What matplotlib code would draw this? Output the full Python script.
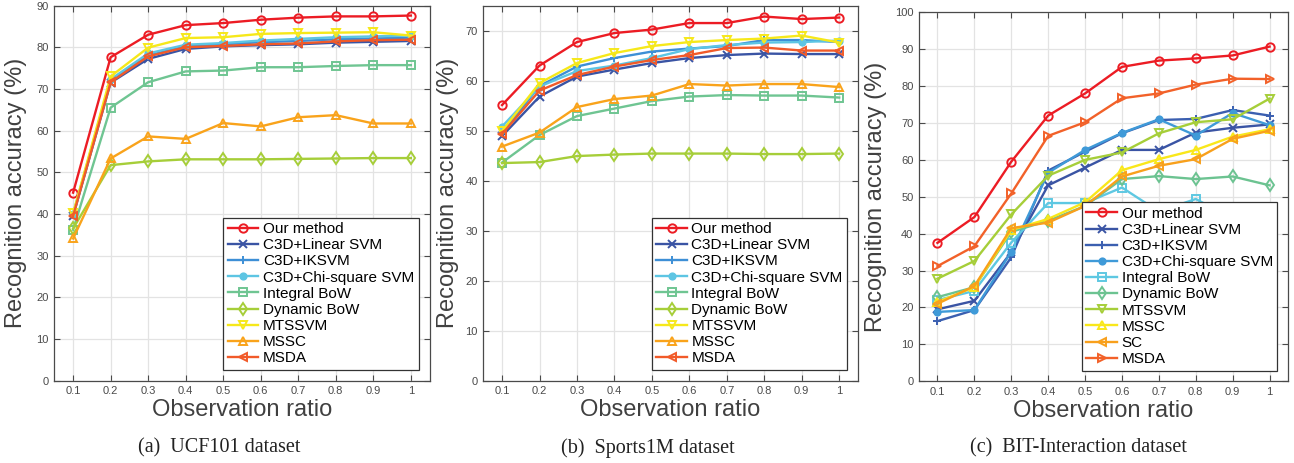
import numpy as np
import matplotlib
matplotlib.use('Agg')
import matplotlib.pyplot as plt

plt.rcParams['font.family'] = ['Liberation Sans', 'DejaVu Sans']

ratio = [0.1, 0.2, 0.3, 0.4, 0.5, 0.6, 0.7, 0.8, 0.9, 1.0]
xtick_labels = ['0.1', '0.2', '0.3', '0.4', '0.5', '0.6', '0.7', '0.8', '0.9', '1']

# (a) UCF101
names_ab = ['Our method', 'C3D+Linear SVM', 'C3D+IKSVM', 'C3D+Chi-square SVM',
            'Integral BoW', 'Dynamic BoW', 'MTSSVM', 'MSSC', 'MSDA']
ucf_our = [45.1, 77.6, 83.0, 85.3, 85.8, 86.6, 87.1, 87.4, 87.4, 87.6]
ucf_linear = [39.5, 71.5, 77.2, 79.6, 80.2, 80.5, 80.7, 81.1, 81.3, 81.5]
ucf_iksvm = [39.8, 72.0, 78.0, 80.3, 80.7, 81.2, 81.5, 81.9, 82.1, 82.3]
ucf_chi = [40.0, 72.3, 78.5, 80.6, 81.0, 81.6, 82.0, 82.4, 82.6, 82.8]
ucf_integral = [36.2, 65.5, 71.6, 74.2, 74.4, 75.2, 75.2, 75.5, 75.7, 75.7]
ucf_dynamic = [36.5, 51.7, 52.6, 53.1, 53.1, 53.1, 53.2, 53.3, 53.4, 53.4]
ucf_mtssvm = [40.1, 73.0, 79.9, 82.2, 82.4, 83.2, 83.4, 83.5, 83.6, 82.8]
ucf_mssc = [34.1, 53.3, 58.6, 58.0, 61.8, 61.0, 63.2, 63.7, 61.7, 61.7]
ucf_msda = [39.5, 71.6, 77.8, 80.0, 80.3, 80.7, 80.9, 81.4, 81.7, 81.8]

# (b) Sports1M
sp_our = [55.1, 63.0, 67.7, 69.5, 70.2, 71.5, 71.5, 72.8, 72.3, 72.6]
sp_linear = [48.9, 56.8, 60.8, 62.2, 63.5, 64.5, 65.1, 65.4, 65.3, 65.3]
sp_iksvm = [49.5, 58.9, 62.8, 64.5, 65.8, 66.4, 66.9, 68.1, 68.1, 67.7]
sp_chi = [50.8, 58.8, 61.9, 63.0, 64.5, 66.3, 67.1, 67.6, 67.7, 68.0]
sp_integral = [43.6, 49.1, 52.9, 54.4, 55.9, 56.8, 57.1, 57.0, 57.0, 56.6]
sp_dynamic = [43.5, 43.7, 44.9, 45.2, 45.4, 45.4, 45.4, 45.3, 45.3, 45.4]
sp_mtssvm = [49.9, 59.5, 63.5, 65.5, 66.9, 67.7, 68.1, 68.4, 69.0, 67.6]
sp_mssc = [46.8, 49.6, 54.7, 56.3, 57.0, 59.3, 59.0, 59.3, 59.3, 58.7]
sp_msda = [49.3, 58.0, 61.1, 62.8, 64.1, 65.1, 66.5, 66.6, 66.0, 66.0]

# (c) BIT-Interaction
names_c = ['Our method', 'C3D+Linear SVM', 'C3D+IKSVM', 'C3D+Chi-square SVM',
           'Integral BoW', 'Dynamic BoW', 'MTSSVM', 'MSSC', 'SC', 'MSDA']
bit_our = [37.5, 44.5, 59.5, 72.0, 78.0, 85.2, 86.9, 87.5, 88.3, 90.7]
bit_linear = [19.5, 21.8, 35.0, 53.1, 57.9, 62.7, 62.7, 67.4, 68.7, 69.6]
bit_iksvm = [16.3, 19.3, 33.6, 57.1, 62.2, 67.2, 70.8, 71.1, 73.5, 72.0]
bit_chi = [18.8, 19.3, 35.1, 56.5, 62.7, 67.3, 71.0, 66.6, 72.7, 69.4]
bit_integral = [22.0, 24.5, 37.6, 48.3, 48.3, 52.5, 46.0, 49.4, 44.0, 43.0]
bit_dynamic = [22.8, 25.5, 40.5, 43.5, 47.5, 54.8, 55.6, 54.8, 55.5, 53.1]
bit_mtssvm = [27.8, 32.6, 45.2, 55.7, 60.0, 62.0, 67.2, 70.2, 71.0, 76.6]
bit_mssc = [21.5, 25.5, 41.0, 44.0, 48.5, 57.2, 60.2, 62.7, 66.3, 68.3]
bit_sc = [21.0, 25.8, 41.5, 43.0, 47.5, 55.5, 58.4, 60.2, 65.7, 67.9]
bit_msda = [31.2, 36.6, 50.9, 66.5, 70.2, 76.7, 78.0, 80.4, 82.0, 81.9]

colors_ab = ['#ec1c24', '#3a54a4', '#3d8fd6', '#5dc5e3', '#6fc592',
             '#a6ce39', '#f6e81a', '#f9a31b', '#f15a29']
markers_ab = ['o', 'x', '+', 'o', 's', 'd', 'v', '^', '<']
colors_c = ['#ec1c24', '#3a54a4', '#3b5fb0', '#3f9ad8', '#5ec8e2', '#6cc391',
            '#a6ce39', '#f9e71a', '#f8a01c', '#f26129']
markers_c = ['o', 'x', '+', 'o', 's', 'd', 'v', '^', '<', '>']
filled = {3}

grey = '#4a4a4a'


def draw_panel(ax, series, names, colors, markers, ylim, yticks, ylab_x):
    for i, (vals, name) in enumerate(zip(series, names)):
        face = colors[i] if i in filled else 'none'
        ms = 4.5 if i in filled else 6
        ax.plot(ratio, vals, color=colors[i], lw=1.7, marker=markers[i],
                ms=ms, mfc=face, mec=colors[i], mew=1.4, label=name)
    ax.set_xlim(0.05, 1.05)
    ax.set_ylim(*ylim)
    ax.set_xticks(ratio)
    ax.set_xticklabels(xtick_labels)
    ax.set_yticks(yticks)
    ax.grid(True, color='#e3e3e3', lw=0.9)
    ax.set_axisbelow(True)
    ax.tick_params(direction='in', top=True, right=True, length=4,
                   width=0.8, color=grey, labelcolor=grey, labelsize=8, pad=4)
    for sp in ax.spines.values():
        sp.set_color(grey)
        sp.set_linewidth(0.9)
    ax.set_xlabel('Observation ratio', fontsize=17, color='#404040', labelpad=2)
    ax.set_ylabel('Recognition accuracy (%)', fontsize=17, color='#404040')
    ax.yaxis.set_label_coords(ylab_x, 0.5)
    leg = ax.legend(loc='lower right', fontsize=11, fancybox=False,
                    framealpha=1, edgecolor='#333333', handlelength=2.0,
                    handletextpad=0.3, borderpad=0.3, labelspacing=0.14,
                    borderaxespad=0.7)
    leg.get_frame().set_linewidth(0.9)
    leg.set_zorder(10)


fig = plt.figure(figsize=(12.94, 4.63), dpi=100)
ax_a = fig.add_axes([0.042, 0.178, 0.290, 0.810])
ax_b = fig.add_axes([0.3735, 0.178, 0.2895, 0.810])
ax_c = fig.add_axes([0.7102, 0.1765, 0.2852, 0.797])

draw_panel(ax_a, [ucf_our, ucf_linear, ucf_iksvm, ucf_chi, ucf_integral,
                  ucf_dynamic, ucf_mtssvm, ucf_mssc, ucf_msda],
           names_ab, colors_ab, markers_ab, (0, 90), np.arange(0, 91, 10), -0.072)
draw_panel(ax_b, [sp_our, sp_linear, sp_iksvm, sp_chi, sp_integral,
                  sp_dynamic, sp_mtssvm, sp_mssc, sp_msda],
           names_ab, colors_ab, markers_ab, (0, 75), np.arange(0, 71, 10), -0.064)
draw_panel(ax_c, [bit_our, bit_linear, bit_iksvm, bit_chi, bit_integral,
                  bit_dynamic, bit_mtssvm, bit_mssc, bit_sc, bit_msda],
           names_c, colors_c, markers_c, (0, 100), np.arange(0, 101, 10), -0.086)

captions = ['(a)  UCF101 dataset', '(b)  Sports1M dataset', '(c)  BIT-Interaction dataset']
for cx, cap in zip([219, 648, 1078], captions):
    fig.text(cx / 1294, 0.032, cap, ha='center', va='center', fontsize=14.5,
             family='Liberation Serif', color='#222222')

fig.savefig('out.png', dpi=100)
